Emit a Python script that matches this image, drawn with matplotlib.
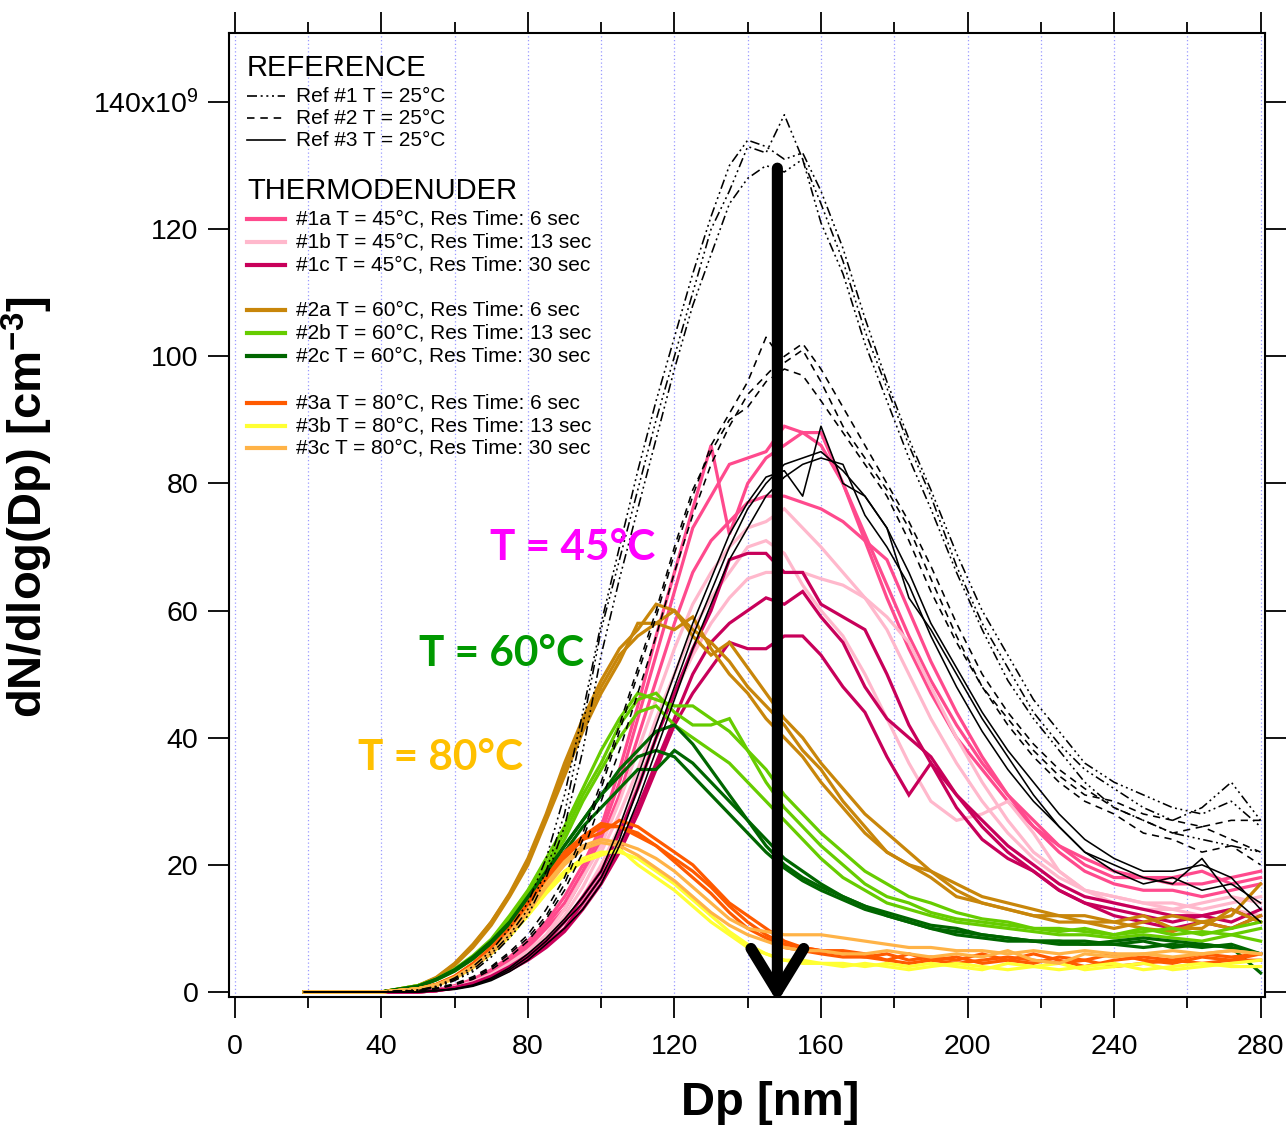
import matplotlib
matplotlib.use('Agg')
import matplotlib.pyplot as plt
from matplotlib.lines import Line2D

# ---------------- data ----------------
dp_nm = [19, 40, 50, 55, 60, 65, 70, 75, 80, 85,
         90, 95, 100, 105, 110, 115, 120, 125, 130, 135,
         140, 145, 150, 155, 160, 166, 172, 178, 184, 190,
         197, 204, 211, 218, 225, 232, 240, 248, 256, 264,
         272, 280]

ref1_scans = [
    [0, 0, 0.3, 0.8, 2, 3.5, 6, 9, 13, 19,
     28, 42, 57, 68, 79, 90, 100, 110, 120, 126,
     133, 132, 138, 131, 124, 115, 104, 95, 86, 78,
     67, 58, 51, 44, 39, 35, 32, 29, 27, 29, 33, 27],
    [0, 0, 0.3, 0.9, 2.2, 4, 6.5, 10, 14, 21,
     31, 44, 58, 70, 82, 93, 103, 113, 122, 130,
     134, 133, 131, 132, 126, 117, 106, 96, 87, 79,
     69, 60, 53, 46, 41, 36, 33, 31, 29, 28, 30, 26],
    [0, 0, 0.2, 0.7, 1.8, 3.2, 5.5, 8.5, 12, 18,
     26, 38, 53, 65, 76, 87, 98, 108, 116, 124,
     128, 130, 129, 131, 121, 113, 102, 93, 84, 76,
     66, 57, 49, 43, 38, 33, 29, 27, 25, 24, 23, 22],
]
ref2_scans = [
    [0, 0, 0.2, 0.5, 1.2, 2.2, 3.8, 6, 8.5, 12,
     17, 24, 32, 41, 50, 59, 69, 78, 86, 91,
     96, 103, 99, 101, 96, 89, 84, 79, 73, 65,
     56, 48, 43, 38, 34, 31, 30, 28, 27, 26, 27, 27],
    [0, 0, 0.2, 0.5, 1.1, 2, 3.5, 5.5, 8, 11.5,
     16, 22, 30, 38, 47, 56, 66, 75, 83, 89,
     94, 97, 100, 102, 98, 92, 86, 80, 74, 67,
     58, 50, 44, 39, 35, 32, 29, 27, 25, 26, 24, 22],
    [0, 0, 0.2, 0.6, 1.3, 2.4, 4, 6.3, 9, 13,
     18, 25, 33, 42, 51, 60, 70, 79, 85, 90,
     92, 96, 98, 97, 93, 88, 83, 78, 71, 63,
     55, 48, 42, 37, 33, 30, 28, 25, 24, 22, 23, 20],
]
ref3_scans = [
    [0, 0, 0, 0.2, 0.5, 1, 2, 3.5, 5.5, 8,
     11, 14, 18, 24, 32, 40, 48, 56, 63, 70,
     76, 80, 83, 84, 85, 82, 78, 73, 66, 58,
     51, 44, 38, 33, 28, 24, 21, 19, 19, 20, 18, 13],
    [0, 0, 0, 0.2, 0.5, 1.1, 2.2, 3.8, 6, 8.5,
     11.5, 15, 19, 26, 34, 42, 50, 58, 65, 72,
     77, 81, 82, 78, 89, 80, 78, 73, 62, 57,
     50, 43, 37, 31, 26, 22, 19, 17, 18, 16, 17, 14],
    [0, 0, 0, 0.2, 0.4, 0.9, 1.8, 3.2, 5, 7.5,
     10, 13, 17, 23, 30, 38, 46, 54, 61, 68,
     73, 78, 81, 83, 84, 83, 75, 70, 64, 56,
     48, 41, 35, 30, 26, 22, 20, 18, 17, 21, 15, 11],
]
td1a_scans = [
    [0, 0, 0, 0.3, 1, 2, 3.5, 5.5, 8, 11,
     15, 20, 26, 35, 45, 56, 66, 76, 86, 72,
     80, 84, 86, 88, 86, 80, 71, 62, 54, 47,
     40, 35, 30, 26, 23, 20, 18, 18, 17, 17, 18, 19],
    [0, 0, 0, 0.3, 0.9, 1.8, 3.2, 5, 7.5, 10.5,
     14, 19, 25, 33, 43, 53, 63, 73, 78, 83,
     84, 85, 89, 88, 88, 80, 72, 64, 56, 49,
     42, 36, 31, 27, 23, 21, 19, 18, 18, 19, 17, 18],
    [0, 0, 0, 0.2, 0.8, 1.6, 3, 4.7, 7, 10,
     13, 18, 24, 31, 40, 49, 58, 66, 71, 74,
     77, 78, 78, 77, 76, 74, 71, 68, 60, 52,
     44, 37, 31, 26, 22, 19, 17, 16, 16, 15, 16, 17],
]
td1b_scans = [
    [0, 0, 0, 0.2, 0.8, 1.6, 2.8, 4.5, 6.5, 9,
     13, 18, 23, 30, 38, 46, 54, 61, 66, 70,
     73, 74, 76, 73, 70, 66, 62, 57, 50, 43,
     36, 30, 25, 21, 18, 16, 15, 14, 14, 13, 14, 15],
    [0, 0, 0, 0.2, 0.7, 1.5, 2.6, 4.2, 6, 8.5,
     12, 16.5, 22, 28, 35, 43, 50, 57, 62, 66,
     70, 71, 69, 64, 60, 56, 50, 43, 36, 30,
     27, 28, 30, 25, 19, 16, 14, 13, 13, 12, 13, 12],
    [0, 0, 0, 0.2, 0.7, 1.4, 2.5, 4, 5.8, 8,
     11, 15, 20, 26, 33, 40, 47, 53, 58, 62,
     65, 66, 66, 66, 65, 64, 62, 59, 55, 48,
     40, 33, 27, 22, 19, 16, 15, 14, 13, 14, 15, 14],
]
td1c_scans = [
    [0, 0, 0, 0.2, 0.7, 1.4, 2.5, 4, 5.8, 8,
     11, 15, 19, 25, 32, 40, 47, 54, 60, 68,
     69, 69, 66, 66, 61, 59, 57, 50, 42, 36,
     31, 27, 23, 20, 17, 15, 14, 13, 12, 12, 13, 11],
    [0, 0, 0, 0.2, 0.6, 1.3, 2.3, 3.7, 5.5, 7.5,
     10, 14, 18, 23, 29, 36, 43, 50, 55, 58,
     60, 62, 61, 63, 59, 55, 48, 43, 40, 37,
     31, 26, 22, 19, 16, 14, 13, 12, 11, 12, 11, 13],
    [0, 0, 0, 0.2, 0.6, 1.2, 2.1, 3.4, 5, 7,
     9.5, 13, 17, 22, 28, 35, 42, 47, 51, 55,
     54, 54, 56, 56, 53, 48, 44, 37, 31, 36,
     29, 24, 21, 19, 16, 14, 12, 11, 10, 11, 10, 12],
]
td2a_scans = [
    [0, 0, 1, 2.3, 4.5, 7.5, 11, 15.5, 21, 28,
     36, 43, 49, 54, 57, 61, 60, 57, 55, 52,
     48, 45, 42, 38, 35, 30, 26, 22, 20, 18,
     15, 14, 13, 12, 11, 11, 10, 11, 12, 11, 12, 17],
    [0, 0, 0.9, 2.1, 4.2, 7, 10.5, 15, 20, 27,
     34, 41, 47, 52, 58, 58, 57, 59, 54, 50,
     47, 43, 40, 37, 33, 29, 25, 22, 20, 19,
     16, 14, 13, 12, 12, 11, 11, 10, 9.5, 11, 10, 12],
    [0, 0, 1, 2.2, 4.4, 7.3, 11, 15.3, 20.5, 27.5,
     35, 42, 48, 53, 56, 58, 60, 56, 53, 55,
     51, 47, 43, 40, 36, 32, 28, 25, 22, 19,
     17, 15, 14, 13, 12, 12, 11, 12, 10, 10, 13, 11],
]
td2b_scans = [
    [0, 0, 1, 2, 3.5, 5.5, 8, 11.5, 15.5, 20,
     25, 31, 36, 42, 46, 47, 44, 42, 42, 43,
     38, 33, 29, 26, 23, 20, 17, 15, 14, 12.5,
     11.5, 11, 10.5, 10, 10, 9.5, 9, 10, 9, 9.5, 9, 10],
    [0, 0, 0.9, 1.9, 3.3, 5.2, 7.6, 11, 15, 19.5,
     24, 30, 35, 40, 44, 45, 42, 40, 38, 36,
     33, 30, 27, 24, 21, 18, 16, 14, 13, 12,
     11, 10.5, 10, 9.5, 9, 9, 8.5, 9, 8.5, 8, 9, 8],
    [0, 0, 1, 2, 3.6, 5.7, 8.3, 12, 16, 21,
     26, 32, 38, 43, 47, 46, 45, 45, 43, 41,
     38, 35, 31, 28, 25, 22, 19, 17, 15, 14,
     12.5, 11.5, 11, 10, 9.5, 10, 9, 9.5, 10, 9, 10, 11],
]
td2c_scans = [
    [0, 0, 0.9, 2, 3.5, 5.5, 8, 11, 15, 19,
     23, 27, 31, 34, 37, 38, 37, 34, 31, 28,
     25, 22, 19.5, 17.5, 16, 14.5, 13, 12, 11, 10,
     9.5, 9, 8.5, 8, 8, 7.5, 7.5, 8, 7, 7.5, 7, 3],
    [0, 0, 0.8, 1.9, 3.3, 5.2, 7.6, 10.5, 14, 18,
     22, 26, 29, 32, 35, 35, 38, 36, 33, 30,
     27, 24, 21, 19, 17, 15, 13.5, 12.5, 11.5, 10.5,
     10, 9, 8.5, 8, 8, 8, 7.5, 7, 7.5, 7, 7.5, 6],
    [0, 0, 0.9, 2, 3.4, 5.4, 7.8, 10.8, 14.5, 18.5,
     23, 27, 31, 35, 38, 41, 42, 39, 35, 31,
     27, 23, 20, 18, 16.5, 15, 13.5, 12, 11, 10,
     9, 8.5, 8, 8, 7.5, 7.5, 8, 8.5, 8, 7.5, 7, 6],
]
td3a_scans = [
    [0, 0, 0.5, 1.2, 2.5, 4.5, 7, 10, 14, 18,
     21.5, 24, 26, 26, 25, 23, 21, 19, 16.5, 13.5,
     11, 9, 7.5, 7, 6.5, 6, 5.5, 6, 5, 5.5,
     5, 6, 5, 4.5, 5.5, 5, 6, 5, 4.5, 5.5, 5, 6],
    [0, 0, 0.5, 1.1, 2.3, 4.2, 6.6, 9.5, 13.5, 17.5,
     21, 24, 25, 27, 26, 24, 22, 20, 17, 14,
     12, 10, 8, 7, 6.5, 6.5, 6, 5, 6, 5,
     5.5, 4.5, 5, 6, 5, 4, 5, 5.5, 5, 4.5, 5, 5],
    [0, 0, 0.5, 1.2, 2.4, 4.4, 6.8, 9.8, 13.8, 18,
     22, 24.5, 26.5, 26, 24.5, 23, 20.5, 18, 15.5, 12.5,
     10, 8.5, 7, 6.5, 6, 5.5, 5.5, 5, 4.5, 5,
     4.5, 5, 5.5, 5, 4.5, 5, 4, 4.5, 5, 6, 5.5, 6],
]
td3b_scans = [
    [0, 0, 0.5, 1.1, 2.2, 4, 6.2, 9, 12.5, 16,
     19, 21, 22, 22, 21, 19, 17, 14.5, 12, 9.5,
     7.5, 6, 5, 4.5, 4.5, 4.5, 4, 4.5, 4, 4.5,
     4, 3.5, 4.5, 4, 3.5, 4, 4.5, 3.5, 4, 4.5, 4, 4],
    [0, 0, 0.5, 1, 2.1, 3.8, 6, 8.7, 12, 15.5,
     18.5, 20.5, 21.5, 22.5, 20, 18, 16, 13.5, 11, 9,
     7, 6, 5, 5, 4.5, 4, 4.5, 4, 3.5, 4,
     4.5, 4, 3.5, 4, 4.5, 3.5, 4, 4.5, 3.5, 4, 4.5, 5],
]
td3c_scans = [
    [0, 0, 0.5, 1.1, 2.3, 4.1, 6.4, 9.3, 13, 17,
     20.5, 23, 24, 23.5, 22.5, 21, 19, 16.5, 14, 11.5,
     10, 9.5, 9, 9, 9, 8.5, 8, 7.5, 7, 7,
     6.5, 6.5, 6, 6.5, 6, 6.5, 6, 6, 6.5, 6, 6.5, 6],
    [0, 0, 0.5, 1, 2.2, 3.9, 6.1, 9, 12.5, 16.5,
     20, 22.5, 23.5, 23, 21.5, 19.5, 17.5, 15, 12.5, 10.5,
     9, 8, 7, 6.5, 6.5, 6, 6, 6.5, 6, 5.5,
     6, 5.5, 6.5, 5, 4.5, 6, 5.5, 6, 5.5, 6, 6.5, 6],
]

ref_labels = ['Ref #1 T = 25°C', 'Ref #2 T = 25°C', 'Ref #3 T = 25°C']
td_labels = ['#1a T = 45°C, Res Time: 6 sec', '#1b T = 45°C, Res Time: 13 sec',
             '#1c T = 45°C, Res Time: 30 sec', '#2a T = 60°C, Res Time: 6 sec',
             '#2b T = 60°C, Res Time: 13 sec', '#2c T = 60°C, Res Time: 30 sec',
             '#3a T = 80°C, Res Time: 6 sec', '#3b T = 80°C, Res Time: 13 sec',
             '#3c T = 80°C, Res Time: 30 sec']
x_ticks = [0, 40, 80, 120, 160, 200, 240, 280]
y_ticks = [0, 20, 40, 60, 80, 100, 120, 140]
y_tick_labels = ['0', '20', '40', '60', '80', '100', '120', r'140x10$^{9}$']

# ---------------- styles ----------------
plt.rcParams['font.family'] = ['Liberation Sans', 'DejaVu Sans']
plt.rcParams['mathtext.fontset'] = 'custom'
plt.rcParams['mathtext.rm'] = 'Liberation Sans'
plt.rcParams['mathtext.it'] = 'Liberation Sans'
plt.rcParams['mathtext.bf'] = 'Liberation Sans:bold'

dashdot3 = (0, (6, 2.2, 1.2, 2.2, 1.2, 2.2, 1.2, 2.2))
dashed = (0, (4.5, 3.5))
ref_styles = [dashdot3, dashed, '-']
td_colors = ['#FF4A8D', '#FFB8CC', '#C8005A', '#C8860A', '#66CC00', '#006600',
             '#FF5A00', '#FFFF33', '#FFB347']
td_data = [td1a_scans, td1b_scans, td1c_scans, td2a_scans, td2b_scans, td2c_scans,
           td3a_scans, td3b_scans, td3c_scans]
ref_data = [ref1_scans, ref2_scans, ref3_scans]

W, H = 1287, 1130
fig = plt.figure(figsize=(W / 100, H / 100), dpi=100)
ax = fig.add_axes([229 / W, 1 - 997 / H, (1265 - 229) / W, (997 - 33) / H])

for scans, col in zip(td_data, td_colors):
    for s in scans:
        ax.plot(dp_nm, s, color=col, lw=2.3, solid_joinstyle='miter', zorder=3)
for scans, ls in zip(ref_data, ref_styles):
    for s in scans:
        ax.plot(dp_nm, s, color='black', lw=1.15, linestyle=ls, zorder=4)

ax.set_xlim(-1.58, 281.2)
ax.set_ylim(-0.79, 150.86)

ax.set_xticks(x_ticks)
ax.set_xticks([20, 60, 100, 140, 180, 220, 260], minor=True)
ax.set_yticks(y_ticks)
ax.set_yticklabels(y_tick_labels)
ax.tick_params(axis='x', which='major', direction='out', length=15, width=1.3,
               top=True, labelsize=20.5, pad=12)
ax.tick_params(axis='x', which='minor', direction='out', length=8, width=1.3, top=True)
ax.tick_params(axis='y', which='major', direction='out', length=15, width=1.3,
               right=True, labelsize=20.5, pad=7)
for sp in ax.spines.values():
    sp.set_linewidth(1.5)
ax.set_axisbelow(True)
ax.grid(True, which='both', axis='x', color='#9A9AFF', linestyle=(0, (1, 2)), lw=0.9)

ax.set_xlabel('Dp [nm]', fontsize=34, fontweight='bold')
ax.xaxis.set_label_coords(0.522, -0.087)
ax.set_ylabel(r'dN/dlog(Dp) [cm$\mathbf{^{-3}}$]', fontsize=34, fontweight='bold')
ax.yaxis.set_label_coords(-0.168, 0.508)

# annotations
ax.text(92.2, 69.8, 'T = 45°C', color='#FF00FF', fontsize=30.5, fontweight='bold',
        family=['Lato', 'DejaVu Sans'], ha='center', va='center', zorder=6)
ax.text(72.9, 53.2, 'T = 60°C', color='#009900', fontsize=30.5, fontweight='bold',
        family=['Lato', 'DejaVu Sans'], ha='center', va='center', zorder=6)
ax.text(56.2, 36.8, 'T = 80°C', color='#FFC000', fontsize=30.5, fontweight='bold',
        family=['Lato', 'DejaVu Sans'], ha='center', va='center', zorder=6)

ax.annotate('', xy=(148.1, -1.6), xytext=(148.1, 129.6),
            arrowprops=dict(arrowstyle='->,head_length=1.55,head_width=0.95',
                            lw=8, color='black', shrinkA=0, shrinkB=0,
                            mutation_scale=20, capstyle='round', joinstyle='round'),
            zorder=7, annotation_clip=False)

# legend (manual, figure pixel positions)
def fx(px):
    return px / W

def fy(py):
    return 1 - py / H

fig.text(fx(247), fy(68), 'REFERENCE', fontsize=21, ha='left', va='center')
for lab, ls, py in zip(ref_labels, ref_styles, [96, 118, 140]):
    fig.add_artist(Line2D([fx(247), fx(285)], [fy(py), fy(py)], color='black',
                          lw=1.2, linestyle=ls, transform=fig.transFigure))
    fig.text(fx(296), fy(py), lab, fontsize=15, ha='left', va='center')

fig.text(fx(247), fy(191), 'THERMODENUDER', fontsize=21, ha='left', va='center')
for lab, col, py in zip(td_labels, td_colors, [219, 242, 265, 310, 333, 356, 403, 426, 448]):
    fig.add_artist(Line2D([fx(247), fx(285)], [fy(py), fy(py)], color=col,
                          lw=3, transform=fig.transFigure))
    fig.text(fx(296), fy(py), lab, fontsize=15, ha='left', va='center')

fig.savefig('out.png', dpi=100)
